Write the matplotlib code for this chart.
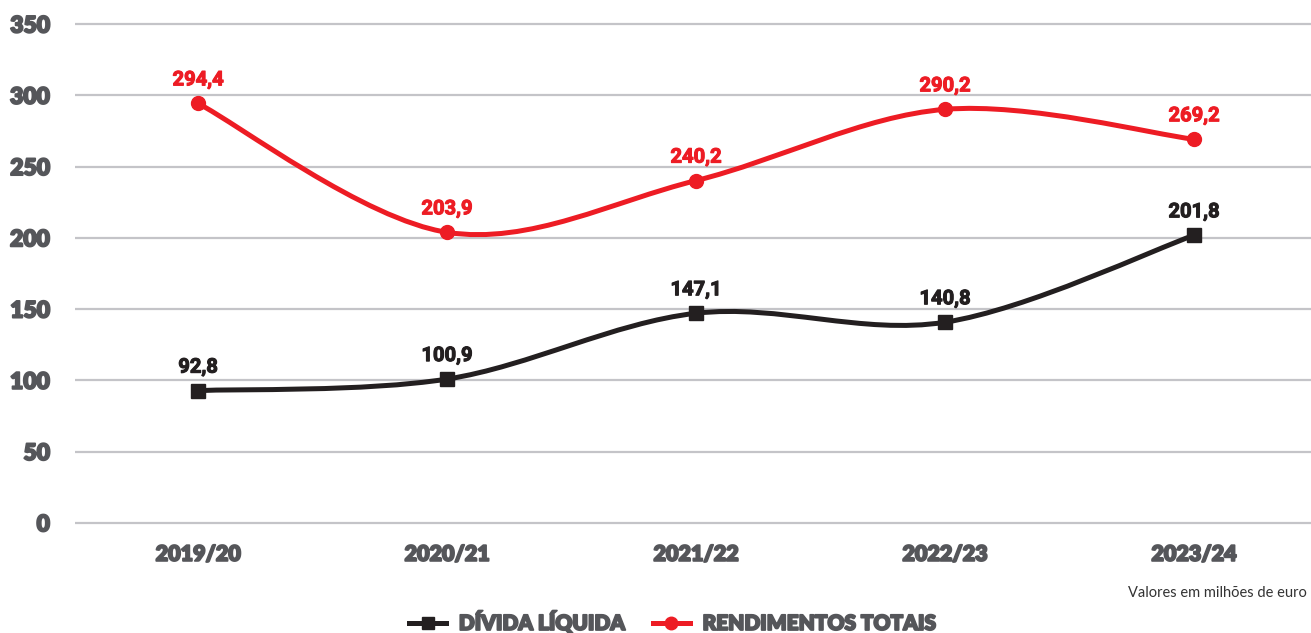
import matplotlib
matplotlib.use("Agg")
import matplotlib.pyplot as plt
import matplotlib.patheffects as pe
from matplotlib.path import Path
from matplotlib.patches import PathPatch
from matplotlib.lines import Line2D

# chart data
seasons = ["2019/20", "2020/21", "2021/22", "2022/23", "2023/24"]
divida_liquida = [92.8, 100.9, 147.1, 140.8, 201.8]
rendimentos_totais = [294.4, 203.9, 240.2, 290.2, 269.2]
y_ticks = [0, 50, 100, 150, 200, 250, 300, 350]

RED = "#ed1c24"
BLACK = "#231f20"
GRAY_TEXT = "#55565a"
GRID = "#c4c4c8"

TICK_FONT = "Lato"
LABEL_FONT = "Roboto"


def smooth_path(xs, ys):
    """Cardinal spline (tension 0) through the points, as cubic Bezier segments."""
    n = len(xs)
    pts = list(zip(xs, ys))
    verts = [pts[0]]
    codes = [Path.MOVETO]
    for i in range(n - 1):
        p0 = pts[max(i - 1, 0)]
        p1 = pts[i]
        p2 = pts[i + 1]
        p3 = pts[min(i + 2, n - 1)]
        cp1 = (p1[0] + (p2[0] - p0[0]) / 6, p1[1] + (p2[1] - p0[1]) / 6)
        cp2 = (p2[0] - (p3[0] - p1[0]) / 6, p2[1] - (p3[1] - p1[1]) / 6)
        verts += [cp1, cp2, p2]
        codes += [Path.CURVE4] * 3
    return Path(verts, codes)


def heavy(color, w=1.0):
    return [pe.withStroke(linewidth=w, foreground=color)]


W, H = 1311, 633
fig = plt.figure(figsize=(W / 100, H / 100), dpi=100)
ax = fig.add_axes([75 / W, 1 - 530 / H, 1236 / W, 513 / H])

x = list(range(len(seasons)))

for values, color, marker, ms in [
    (rendimentos_totais, RED, "o", 10),
    (divida_liquida, BLACK, "s", 9.5),
]:
    ax.add_patch(PathPatch(smooth_path(x, values), fill=False, edgecolor=color,
                           lw=3.6, capstyle="round", joinstyle="round", zorder=3))
    ax.plot(x, values, linestyle="none", marker=marker, markersize=ms,
            color=color, zorder=4)
    for xi, v in zip(x, values):
        ax.annotate(f"{v:.1f}".replace(".", ","), (xi, v), xytext=(0, 10),
                    textcoords="offset points", ha="center", va="bottom",
                    fontsize=14.5, fontweight="bold", family=LABEL_FONT,
                    color=color, zorder=5, path_effects=heavy(color, 0.8))

ax.set_xlim(-0.494, 4.47)
ax.set_ylim(-5, 355)
ax.set_yticks(y_ticks)
ax.set_xticks(x)
ax.set_xticklabels(seasons)
ax.yaxis.grid(True, color=GRID, lw=1.6)
ax.set_axisbelow(True)
for s in ax.spines.values():
    s.set_visible(False)
ax.tick_params(axis="both", length=0, labelcolor=GRAY_TEXT)
ax.tick_params(axis="y", pad=18, labelsize=16.5)
ax.tick_params(axis="x", pad=10, labelsize=15.5)
for lbl in ax.get_xticklabels() + ax.get_yticklabels():
    lbl.set_family(TICK_FONT)
    lbl.set_fontweight("heavy")
    lbl.set_path_effects(heavy(GRAY_TEXT, 1.3))

fig.text(1307 / W, 1 - 593 / H, "Valores em milhões de euro", ha="right",
         va="center", fontsize=10.5, color="#333333", family=TICK_FONT)

handles = [
    Line2D([], [], color=BLACK, lw=3.6, marker="s", markersize=9),
    Line2D([], [], color=RED, lw=3.6, marker="o", markersize=9),
]
leg = fig.legend(handles, ["DÍVIDA LÍQUIDA", "RENDIMENTOS TOTAIS"],
                 loc="center", bbox_to_anchor=(673 / W, 1 - 622 / H), ncol=2,
                 frameon=False, handlelength=1.8, columnspacing=1.3,
                 handletextpad=0.6, prop={"family": TICK_FONT, "weight": "heavy",
                                          "size": 15},
                 labelcolor=GRAY_TEXT)
for t in leg.get_texts():
    t.set_path_effects(heavy(GRAY_TEXT, 1.3))

fig.savefig("out.png", dpi=100)
